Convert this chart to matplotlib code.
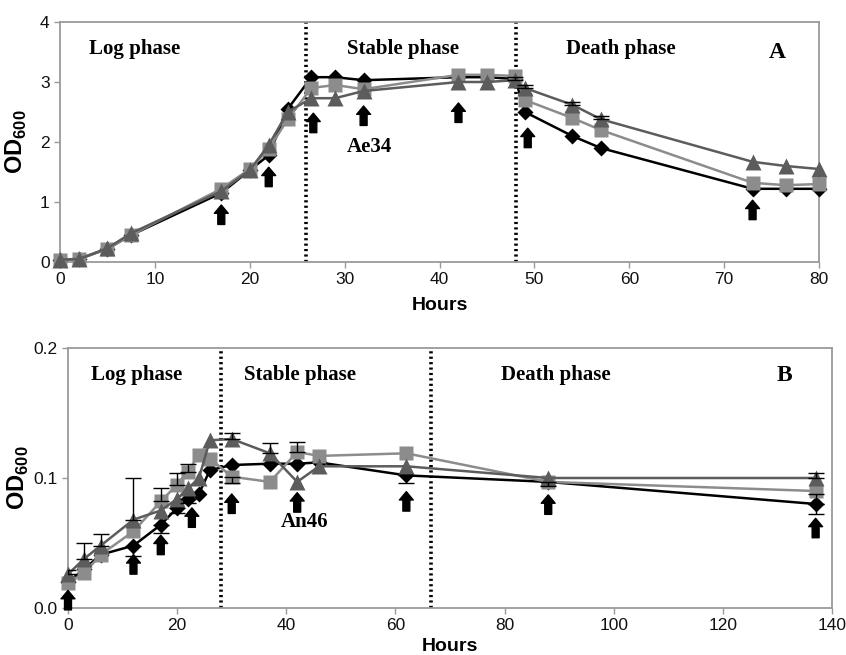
import matplotlib
matplotlib.use("Agg")
import matplotlib.pyplot as plt
import numpy as np

plt.rcParams['font.family'] = ['Liberation Sans', 'DejaVu Sans']
plt.rcParams['mathtext.fontset'] = 'custom'
plt.rcParams['mathtext.rm'] = 'Liberation Sans'
plt.rcParams['mathtext.bf'] = 'Liberation Sans:bold'

# ---------------- Panel A data (Ae34) ----------------
hours_A = [0, 2, 5, 7.5, 17, 20, 22, 24, 26.5, 29, 32, 42, 45, 48, 49, 54, 57, 73, 76.5, 80]
diamond_A = [0.04, 0.05, 0.22, 0.45, 1.15, 1.53, 1.78, 2.55, 3.08, 3.08, 3.03, 3.08, 3.08, 3.05, 2.5, 2.1, 1.9, 1.22, 1.22, 1.22]
square_A = [0.04, 0.05, 0.22, 0.45, 1.22, 1.55, 1.88, 2.38, 2.9, 2.95, 2.88, 3.12, 3.12, 3.1, 2.7, 2.4, 2.2, 1.32, 1.28, 1.3]
triangle_A = [0.04, 0.05, 0.23, 0.48, 1.18, 1.53, 1.95, 2.5, 2.73, 2.73, 2.85, 3.0, 3.0, 3.03, 2.9, 2.62, 2.38, 1.67, 1.6, 1.55]
triangle_A_err = [0, 0, 0, 0, 0, 0, 0, 0, 0, 0, 0, 0, 0, 0.05, 0.05, 0.05, 0.05, 0, 0, 0]
arrows_A_x = [17, 22, 26.7, 32, 42, 49.3, 73]
arrows_A_tip = [0.95, 1.58, 2.48, 2.6, 2.65, 2.23, 1.03]
phase_lines_A = [25.9, 48.1]

# ---------------- Panel B data (An46) ----------------
hours_B = [0, 3, 6, 12, 17, 20, 22, 24, 26, 30, 37, 42, 46, 62, 88, 137]
diamond_B = [0.02, 0.03, 0.041, 0.048, 0.064, 0.077, 0.084, 0.088, 0.106, 0.110, 0.111, 0.111, 0.112, 0.102, 0.097, 0.080]
square_B = [0.019, 0.027, 0.041, 0.059, 0.082, 0.095, 0.105, 0.118, 0.115, 0.101, 0.097, 0.120, 0.117, 0.119, 0.097, 0.090]
triangle_B = [0.026, 0.038, 0.048, 0.068, 0.075, 0.084, 0.092, 0.100, 0.129, 0.130, 0.119, 0.097, 0.109, 0.109, 0.100, 0.100]
diamond_B_err_lo = [0, 0, 0, 0.008, 0.006, 0.004, 0.003, 0, 0, 0, 0, 0, 0, 0.006, 0.003, 0.008]
diamond_B_err_hi = [0, 0, 0, 0, 0, 0, 0, 0, 0, 0, 0, 0, 0, 0, 0, 0.008]
square_B_err_lo = [0, 0, 0, 0, 0, 0, 0, 0, 0, 0.005, 0, 0, 0, 0, 0, 0]
square_B_err_hi = [0, 0, 0, 0, 0.010, 0.009, 0.006, 0, 0, 0, 0, 0.008, 0, 0, 0, 0]
triangle_B_err_hi = [0.003, 0.012, 0.009, 0.032, 0, 0, 0, 0, 0, 0.005, 0.008, 0, 0, 0, 0, 0.004]
arrows_B_x = [0, 12, 17, 22.7, 30, 42, 62, 88, 137]
arrows_B_tip = [0.0135, 0.041, 0.056, 0.077, 0.0877, 0.0887, 0.0895, 0.087, 0.069]
phase_lines_B = [28, 66.5]

C_DIA = '#000000'
C_SQ = '#8c8c8c'
C_TRI = '#5c5c5c'
SPINE = '#9a9a9a'

fig = plt.figure(figsize=(8.46, 6.55), dpi=100)
axA = fig.add_axes([60/846, 1-262/655, 759/846, 240/655])
axB = fig.add_axes([68/846, 1-608/655, 764/846, 260/655])


def style_axes(ax):
    for s in ax.spines.values():
        s.set_color(SPINE)
        s.set_linewidth(1.3)
    ax.tick_params(direction='out', length=4, width=1, color=SPINE,
                   labelsize=12.5, labelcolor='#111111')


def draw_arrows(ax, xs, tips):
    for x, t in zip(xs, tips):
        ax.annotate('', xy=(x, t), xycoords='data',
                    xytext=(0, -14), textcoords='offset points',
                    arrowprops=dict(arrowstyle='simple,head_length=0.6,head_width=1.0,tail_width=0.5',
                                    color='black', shrinkA=0, shrinkB=0, mutation_scale=10),
                    zorder=6)


def draw_err(ax, xs, ys, lo, hi):
    xs = np.asarray(xs, float)
    ys = np.asarray(ys, float)
    lo = np.asarray(lo, float)
    hi = np.asarray(hi, float)
    for sel, err in ((lo > 0, [lo, np.zeros_like(lo)]), (hi > 0, [np.zeros_like(hi), hi])):
        if sel.any():
            ax.errorbar(xs[sel], ys[sel], yerr=[err[0][sel], err[1][sel]], fmt='none',
                        ecolor='black', elinewidth=1, capsize=6, zorder=5.5)


def serif_text(ax, x, y, s, size=15):
    ax.text(x, y, s, ha='center', va='center', fontsize=size, fontweight='bold',
            family=['Liberation Serif', 'DejaVu Serif'], zorder=7)


# ---- Panel A ----
ax = axA
style_axes(ax)
ax.plot(hours_A, diamond_A, color=C_DIA, lw=1.8, marker='D', ms=8, mec='none', clip_on=False, zorder=3)
ax.plot(hours_A, square_A, color=C_SQ, lw=1.8, marker='s', ms=10, mec='none', clip_on=False, zorder=4)
draw_err(ax, hours_A, triangle_A, np.zeros(len(triangle_A_err)), triangle_A_err)
ax.plot(hours_A, triangle_A, color=C_TRI, lw=1.8, marker='^', ms=11, mec='none', clip_on=False, zorder=5)
for xv in phase_lines_A:
    ax.axvline(xv, color='black', lw=2.6, ls=(0, (0.6, 0.9)), zorder=2)
draw_arrows(ax, arrows_A_x, arrows_A_tip)
ax.set_xlim(0, 80)
ax.set_ylim(0, 4)
ax.set_xticks(np.arange(0, 81, 10))
ax.set_yticks(np.arange(0, 5, 1))
ax.set_xlabel('Hours', fontsize=14, fontweight='bold', labelpad=7)
ax.set_ylabel(r'$\mathbf{OD}_{\mathbf{600}}$', fontsize=17, labelpad=8)
serif_text(ax, 7.9, 3.55, 'Log phase')
serif_text(ax, 36.2, 3.55, 'Stable phase')
serif_text(ax, 59.1, 3.55, 'Death phase')
serif_text(ax, 75.6, 3.5, 'A', size=17)
serif_text(ax, 32.6, 1.92, 'Ae34')

# ---- Panel B ----
ax = axB
style_axes(ax)
ax.plot(hours_B, diamond_B, color=C_DIA, lw=1.8, marker='D', ms=8, mec='none', clip_on=False, zorder=3)
ax.plot(hours_B, square_B, color=C_SQ, lw=1.8, marker='s', ms=10, mec='none', clip_on=False, zorder=4)
ax.plot(hours_B, triangle_B, color=C_TRI, lw=1.8, marker='^', ms=11, mec='none', clip_on=False, zorder=5)
draw_err(ax, hours_B, diamond_B, diamond_B_err_lo, diamond_B_err_hi)
draw_err(ax, hours_B, square_B, square_B_err_lo, square_B_err_hi)
draw_err(ax, hours_B, triangle_B, np.zeros(len(triangle_B_err_hi)), triangle_B_err_hi)
for xv in phase_lines_B:
    ax.axvline(xv, color='black', lw=2.6, ls=(0, (0.6, 0.9)), zorder=2)
draw_arrows(ax, arrows_B_x, arrows_B_tip)
ax.set_xlim(0, 140)
ax.set_ylim(0, 0.2)
ax.set_xticks(np.arange(0, 141, 20))
ax.set_yticks([0.0, 0.1, 0.2])
ax.set_yticklabels(['0.0', '0.1', '0.2'])
ax.set_xlabel('Hours', fontsize=14, fontweight='bold', labelpad=3)
ax.set_ylabel(r'$\mathbf{OD}_{\mathbf{600}}$', fontsize=17, labelpad=2)
serif_text(ax, 12.6, 0.179, 'Log phase')
serif_text(ax, 42.5, 0.179, 'Stable phase')
serif_text(ax, 89.3, 0.179, 'Death phase')
serif_text(ax, 131.3, 0.179, 'B', size=17)
serif_text(ax, 43.4, 0.0664, 'An46')

fig.savefig('out.png', dpi=100)
